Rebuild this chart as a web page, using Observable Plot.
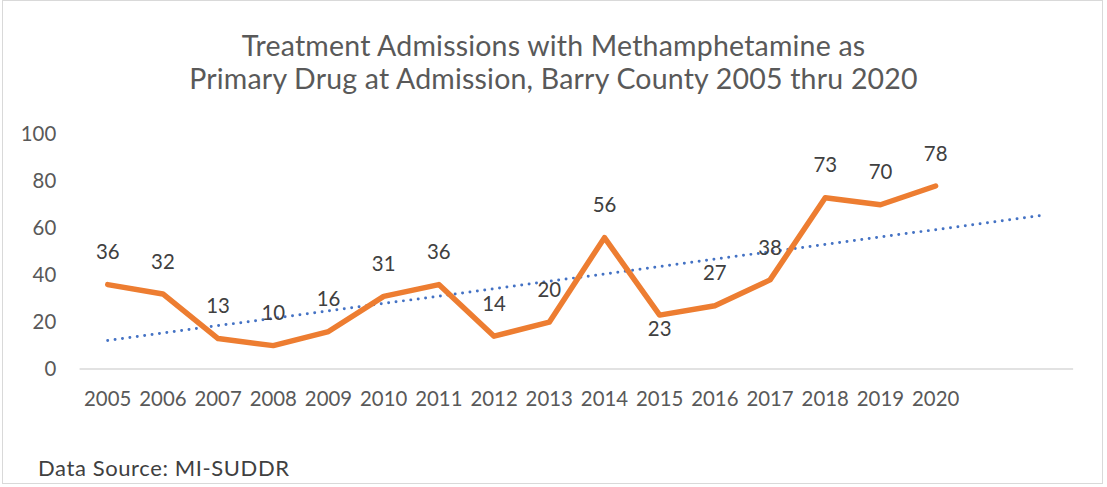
<!DOCTYPE html>
<html>
<head>
<meta charset="utf-8">
<script src="https://cdn.jsdelivr.net/npm/d3@7"></script>
<script src="https://cdn.jsdelivr.net/npm/@observablehq/plot@0.6"></script>
<style>
  html, body { margin: 0; padding: 0; background: #fff; }
  #frame {
    position: absolute; left: 2px; top: 0px; width: 1101px; height: 484px;
    border: 1px solid #d9d9d9; box-sizing: border-box; overflow: hidden;
    font-family: Lato, "Open Sans", sans-serif;
  }
  #title {
    position: absolute; left: 0; top: 28px; width: 1101px; text-align: center;
    font-size: 28.5px; line-height: 33px; color: #595959; font-weight: 400; letter-spacing: 0.2px;
  }
  #chart { position: absolute; left: -2px; top: 110px; }
  #caption {
    position: absolute; left: 35px; top: 453px; font-size: 22px; color: #404040; letter-spacing: 0.6px;
  }
</style>
</head>
<body>
<div id="frame">
  <div id="title">Treatment Admissions with Methamphetamine as<br>Primary Drug at Admission, Barry County 2005 thru 2020</div>
  <div id="chart"></div>
  <div id="caption">Data Source: MI-SUDDR</div>
</div>
<script>
const years = [2005, 2006, 2007, 2008, 2009, 2010, 2011, 2012, 2013, 2014, 2015, 2016, 2017, 2018, 2019, 2020];
const admissions = [36, 32, 13, 10, 16, 31, 36, 14, 20, 56, 23, 27, 38, 73, 70, 78];
const labelsBelow = [2015];
const trendYears = [2005, 2022];
const trendValues = [12.2, 65.7];
const yTicks = [0, 20, 40, 60, 80, 100];

const data = years.map((y, i) => ({year: y, value: admissions[i]}));
const trend = trendYears.map((y, i) => ({year: y, value: trendValues[i]}));
const above = data.filter(d => !labelsBelow.includes(d.year));
const below = data.filter(d => labelsBelow.includes(d.year));

const plot = Plot.plot({
  width: 1107,
  height: 300,
  marginLeft: 79,
  marginRight: 29,
  marginTop: 23,
  marginBottom: 41,
  style: {fontFamily: "Lato, 'Open Sans', sans-serif", background: "transparent"},
  x: {domain: [2004.5, 2022.5], axis: null},
  y: {domain: [0, 100], axis: null},
  marks: [
    Plot.ruleY([0], {stroke: "#d9d9d9", strokeWidth: 1.5}),
    Plot.axisY({ticks: yTicks, tickSize: 0, tickPadding: 24, fontSize: 20.5, fill: "#595959", color: "#595959", label: null}),
    Plot.axisX({ticks: years, tickFormat: d => String(d), tickSize: 0, tickPadding: 23, fontSize: 20.5, color: "#595959", label: null}),
    Plot.line(trend, {x: "year", y: "value", stroke: "#4472C4", strokeWidth: 3, strokeDasharray: "0 7.5", strokeLinecap: "round"}),
    Plot.line(data, {x: "year", y: "value", stroke: "#ED7D31", strokeWidth: 5.5, strokeLinejoin: "round", strokeLinecap: "round"}),
    Plot.text(above, {x: "year", y: "value", text: d => String(d.value), dy: -32, fontSize: 20.5, fill: "#404040"}),
    Plot.text(below, {x: "year", y: "value", text: d => String(d.value), dy: 14, fontSize: 20.5, fill: "#404040"})
  ]
});
document.getElementById("chart").appendChild(plot);
</script>
</body>
</html>
